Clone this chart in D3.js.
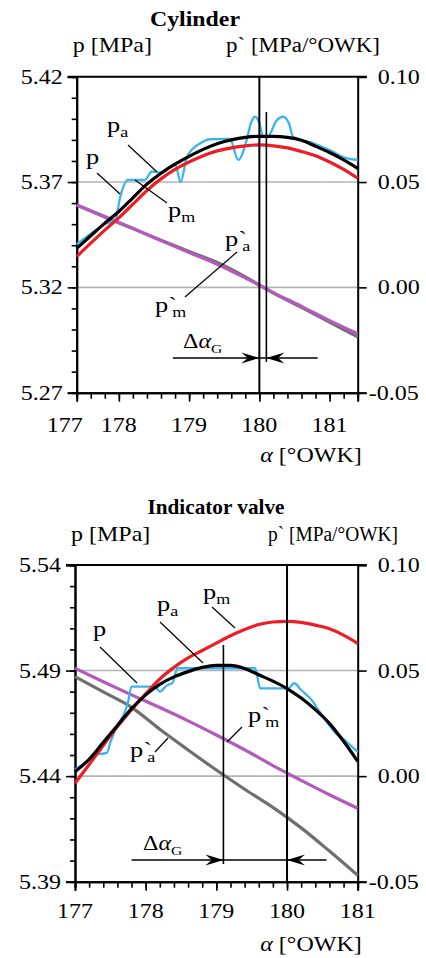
<!DOCTYPE html>
<html><head><meta charset="utf-8">
<script src="https://cdnjs.cloudflare.com/ajax/libs/d3/7.8.5/d3.min.js"></script>
<style>html,body{margin:0;padding:0;background:#fff;}svg{display:block;}</style>
</head><body>
<script>
// ---------------- DATA ----------------
// Cylinder panel
const cylTitle = "Cylinder";
const cylXTicks = [177, 178, 179, 180, 181];
const cylYLeftTicks = [5.27, 5.32, 5.37, 5.42];
const cylYRightTicks = [-0.05, 0.00, 0.05, 0.10];
const cylAlpha = [177.4,177.6,177.8,178.0,178.2,178.4,178.6,178.8,179.0,179.2,179.4,179.6,179.8,180.0,180.2,180.4,180.6,180.8,181.0,181.2,181.4];
const cylPa = [5.3385,5.3445,5.3505,5.3560,5.3625,5.3690,5.3742,5.3785,5.3822,5.3855,5.3882,5.3900,5.3912,5.3917,5.3917,5.3912,5.3898,5.3870,5.3840,5.3805,5.3765];
const cylPm = [5.3346,5.3410,5.3472,5.3530,5.3595,5.3660,5.3715,5.3760,5.3795,5.3825,5.3848,5.3862,5.3872,5.3876,5.3872,5.3862,5.3845,5.3825,5.3795,5.3760,5.3718];
const cylPAlpha = [177.4,177.6,177.8,177.95,178.02,178.13,178.37,178.47,178.6,178.8,178.88,178.97,179.16,179.30,179.58,179.70,179.82,179.88,179.94,180.0,180.05,180.12,180.24,180.34,180.42,180.48,180.77,181.0,181.24,181.4];
const cylP = [5.3405,5.3455,5.3500,5.3520,5.3630,5.3710,5.3710,5.3750,5.3745,5.3785,5.3700,5.3820,5.3884,5.3903,5.3905,5.3805,5.3900,5.3980,5.4010,5.3980,5.3920,5.3915,5.3990,5.4010,5.3980,5.3915,5.3884,5.3852,5.3813,5.3805];
const cylDAlpha = [177.4,177.8,178.2,178.6,179.0,179.4,179.8,180.2,180.6,181.0,181.4];
const cylDpa = [0.0391,0.0334,0.0279,0.0224,0.0170,0.0118,0.0050,-0.0027,-0.0095,-0.0165,-0.0235];
const cylDpm = [0.0391,0.0336,0.0280,0.0222,0.0165,0.0110,0.0045,-0.0025,-0.0090,-0.0158,-0.0220];
const cylMarks = [180.0, 180.1];          // alpha_G lines
const cylArrow = [178.77, 180.83, 5.2865]; // arrow start, end, level

// Indicator valve panel
const indTitle = "Indicator valve";
const indXTicks = [177, 178, 179, 180, 181];
const indYLeftTicks = [5.39, 5.44, 5.49, 5.54];
const indYRightTicks = [-0.05, 0.00, 0.05, 0.10];
const indAlpha = [177.0,177.2,177.4,177.6,177.8,178.0,178.2,178.4,178.6,178.8,179.0,179.2,179.4,179.6,179.8,180.0,180.2,180.4,180.6,180.8,181.0];
const indPa = [5.4421,5.4480,5.4560,5.4640,5.4720,5.4785,5.4835,5.4870,5.4895,5.4915,5.4925,5.4925,5.4910,5.4880,5.4850,5.4815,5.4770,5.4715,5.4650,5.4565,5.4470];
const indPm = [5.4366,5.4455,5.4545,5.4635,5.4715,5.4790,5.4860,5.4915,5.4960,5.4995,5.5030,5.5065,5.5095,5.5118,5.5130,5.5133,5.5128,5.5115,5.5098,5.5068,5.5029];
const indPAlpha = [177.0,177.2,177.26,177.45,177.5,177.6,177.7,177.75,177.8,178.13,178.2,178.3,178.38,178.45,179.55,179.62,180.02,180.1,180.2,180.35,180.45,180.6,180.7,180.8,180.9,181.0];
const indP = [5.4430,5.4480,5.4500,5.4510,5.4560,5.4640,5.4700,5.4750,5.4824,5.4824,5.4800,5.4830,5.4842,5.4911,5.4911,5.4816,5.4816,5.4840,5.4808,5.4760,5.4710,5.4640,5.4600,5.4575,5.4545,5.4516];
const indDAlpha = [177.0,177.4,177.8,178.2,178.6,179.0,179.4,179.8,180.2,180.6,181.0];
const indDpa = [0.0471,0.0399,0.0326,0.0222,0.0124,0.0029,-0.0062,-0.0148,-0.0245,-0.0355,-0.0470];
const indDpm = [0.0511,0.0447,0.0385,0.0325,0.0262,0.0195,0.0125,0.0050,-0.0020,-0.0088,-0.0152];
const indMarks = [180.0, 179.1];
const indArrow = [177.8, 180.56, 5.4003];

// ---------------- DRAW ----------------
const W = 426, H = 958;
const FONT = "'Liberation Serif','Times New Roman',Times,serif";
const C = {cyan:"#3ab4ee", black:"#000", red:"#ee1d25", purple:"#b35bbd", gray:"#6f6f6f", grid:"#b4b4b4"};
const svg = d3.select("body").append("svg").attr("width", W).attr("height", H);

function stext(g, x, y, anchor, size, weight) {
  return g.append("text")
    .attr("transform", `translate(${x},${y}) scale(1.2,1)`)
    .attr("text-anchor", anchor)
    .attr("font-family", FONT)
    .attr("font-size", size)
    .attr("font-weight", weight || "normal")
    .attr("fill", "#000");
}
function sym(g, x, y, prime, sub) {
  const t = stext(g, x, y, "start", 22);
  t.append("tspan").text("p");
  if (prime) t.append("tspan").text("`");
  if (sub) t.append("tspan").attr("font-size", 15).attr("dy", 5).attr("dx", prime ? -4 : 0).text(sub);
}
function arrowHead(g, tx, ty, dir) {
  const L = 18, h = 5.5;
  const p = d3.path();
  p.moveTo(tx, ty);
  p.lineTo(tx - dir * L, ty - h);
  p.lineTo(tx - dir * L * 0.65, ty);
  p.lineTo(tx - dir * L, ty + h);
  p.closePath();
  g.append("path").attr("d", p.toString()).attr("fill", "#000");
}

function panel(cfg) {
  const g = svg.append("g");
  const x = d3.scaleLinear().domain(cfg.xDomain).range([cfg.x0, cfg.x1]);
  const yL = d3.scaleLinear().domain([cfg.yLeft[0], cfg.yLeft[cfg.yLeft.length-1]]).range([cfg.yb, cfg.yt]);
  const yR = d3.scaleLinear().domain([cfg.yRight[0], cfg.yRight[cfg.yRight.length-1]]).range([cfg.yb, cfg.yt]);

  // titles / headers (widths fitted to the reference)
  g.append("text").attr("x", cfg.titleX).attr("y", cfg.titleY).attr("text-anchor", "middle")
    .attr("font-family", FONT).attr("font-size", 21).attr("font-weight", "bold")
    .attr("textLength", cfg.titleW).attr("lengthAdjust", "spacingAndGlyphs").text(cfg.title);
  stext(g, cfg.x0 - 4, cfg.headY, "start", 20).text("p [MPa]");
  g.append("text").attr("x", cfg.head2X).attr("y", cfg.headY)
    .attr("font-family", FONT).attr("font-size", 20)
    .attr("textLength", cfg.head2W).attr("lengthAdjust", "spacingAndGlyphs").text("p` [MPa/°OWK]");

  // gridlines
  cfg.yLeft.slice(1, -1).forEach(v => {
    g.append("line").attr("x1", cfg.x0).attr("x2", cfg.x1).attr("y1", yL(v)).attr("y2", yL(v))
      .attr("stroke", C.grid).attr("stroke-width", 1.6);
  });

  // ticks
  const gl = g.append("g").attr("transform", `translate(${cfg.x0},0)`)
    .call(d3.axisLeft(yL).tickValues(d3.range(0, 16).map(i => cfg.yLeft[0] + i * 0.01)).tickSize(5).tickFormat(""));
  const gl2 = g.append("g").attr("transform", `translate(${cfg.x0},0)`)
    .call(d3.axisLeft(yL).tickValues(cfg.yLeft).tickSize(9).tickFormat(""));
  const gr = g.append("g").attr("transform", `translate(${cfg.x1},0)`)
    .call(d3.axisRight(yR).tickValues(cfg.yRight).tickSize(9).tickFormat(""));
  const minorX = d3.range(0, 21).map(i => cfg.xDomain[0] + i * 0.2);
  const gb = g.append("g").attr("transform", `translate(0,${cfg.yb})`)
    .call(d3.axisBottom(x).tickValues(minorX).tickSize(6).tickFormat(""));
  const gb2 = g.append("g").attr("transform", `translate(0,${cfg.yb})`)
    .call(d3.axisBottom(x).tickValues(cfg.xTicks.filter(v => v >= cfg.xDomain[0])).tickSize(9).tickFormat(""));
  [gl, gl2, gr, gb, gb2].forEach(a => {
    a.selectAll("path.domain").attr("stroke", "#000").attr("stroke-width", 2);
    a.selectAll(".tick line").attr("stroke", "#000").attr("stroke-width", 1.6);
  });
  g.append("line").attr("x1", cfg.x0 - 9).attr("x2", cfg.x1 + 9).attr("y1", cfg.yt).attr("y2", cfg.yt)
    .attr("stroke", "#000").attr("stroke-width", 2);

  // tick labels
  cfg.yLeft.forEach(v => stext(g, cfg.x0 - 14, yL(v) + 7, "end", 20).text(v.toFixed(2)));
  cfg.yRight.forEach(v => stext(g, cfg.x1 + (v < 0 ? 11 : 20), yR(v) + 7, "start", 20).text(v.toFixed(2)));
  cfg.xTicks.forEach(v => {
    const px = Math.max(x(v), cfg.x0 - 12);
    stext(g, px, cfg.yb + cfg.xLabDy, "middle", 20).text(String(v));
  });
  const al = stext(g, cfg.x1 + 4, cfg.yb + cfg.xTitleDy, "end", 20);
  al.append("tspan").attr("font-style", "italic").text("α");
  al.append("tspan").text(" [°OWK]");

  // curves
  const lineL = (xs, ys) => d3.line().x((d, i) => x(xs[i])).y((d, i) => yL(ys[i])).curve(d3.curveMonotoneX)(ys);
  const lineR = (xs, ys) => d3.line().x((d, i) => x(xs[i])).y((d, i) => yR(ys[i])).curve(d3.curveMonotoneX)(ys);
  const plot = g.append("g");
  plot.append("path").attr("d", lineR(cfg.dAlpha, cfg.dpa)).attr("fill", "none").attr("stroke", C.gray).attr("stroke-width", 3.2);
  plot.append("path").attr("d", lineR(cfg.dAlpha, cfg.dpm)).attr("fill", "none").attr("stroke", C.purple).attr("stroke-width", 3.2);
  plot.append("path").attr("d", lineL(cfg.pAlpha, cfg.p)).attr("fill", "none").attr("stroke", C.cyan).attr("stroke-width", 2.3);
  plot.append("path").attr("d", lineL(cfg.alpha, cfg.pm)).attr("fill", "none").attr("stroke", C.red).attr("stroke-width", 3.2);
  plot.append("path").attr("d", lineL(cfg.alpha, cfg.pa)).attr("fill", "none").attr("stroke", C.black).attr("stroke-width", 3.2);

  // vertical marks
  g.append("line").attr("x1", x(cfg.marks[0])).attr("x2", x(cfg.marks[0])).attr("y1", cfg.yt).attr("y2", cfg.yb)
    .attr("stroke", "#000").attr("stroke-width", 2);
  g.append("line").attr("x1", x(cfg.marks[1])).attr("x2", x(cfg.marks[1])).attr("y1", cfg.mark2Top).attr("y2", yL(cfg.arrow[2]) + 4)
    .attr("stroke", "#000").attr("stroke-width", 1.6);

  // delta arrow
  const ay = yL(cfg.arrow[2]);
  g.append("line").attr("x1", x(cfg.arrow[0])).attr("x2", x(cfg.arrow[1])).attr("y1", ay).attr("y2", ay)
    .attr("stroke", "#000").attr("stroke-width", 1.6);
  const lo = Math.min(cfg.marks[0], cfg.marks[1]), hi = Math.max(cfg.marks[0], cfg.marks[1]);
  arrowHead(g, x(lo), ay, 1);
  arrowHead(g, x(hi), ay, -1);
  const dl = stext(g, cfg.dLabX, cfg.dLabY, "start", 20);
  dl.append("tspan").text("Δ");
  dl.append("tspan").attr("font-style", "italic").text("α");
  dl.append("tspan").attr("font-size", 13).attr("dy", 5).text("G");

  // labels + leaders
  cfg.leaders.forEach(l => g.append("line").attr("x1", l[0]).attr("y1", l[1]).attr("x2", l[2]).attr("y2", l[3])
    .attr("stroke", "#000").attr("stroke-width", 1.2));
  cfg.labels.forEach(l => sym(g, l[0], l[1], l[2], l[3]));
}

panel({
  title: cylTitle, titleX: 195, titleY: 26, titleW: 90, headY: 52, head2X: 226, head2W: 154,
  xDomain: [177.4, 181.4], x0: 76.7, x1: 357.7, yt: 76.7, yb: 392.7,
  yLeft: cylYLeftTicks, yRight: cylYRightTicks, xTicks: cylXTicks, xLabDy: 39, xTitleDy: 69,
  alpha: cylAlpha, pa: cylPa, pm: cylPm, pAlpha: cylPAlpha, p: cylP,
  dAlpha: cylDAlpha, dpa: cylDpa, dpm: cylDpm,
  marks: cylMarks, mark2Top: 112, arrow: cylArrow, dLabX: 183, dLabY: 348,
  leaders: [[128,145,157,172],[97,173,120,194],[135,180,167,203],[185,297,237,252]],
  labels: [[107,132,false,"a"],[86,164,false,null],[168,217,false,"m"],[225,246,true,"a"],[155,312,true,"m"]]
});

panel({
  title: indTitle, titleX: 216, titleY: 514, titleW: 137, headY: 541, head2X: 268, head2W: 130,
  xDomain: [177, 181], x0: 75, x1: 357.7, yt: 565, yb: 881.7,
  yLeft: indYLeftTicks, yRight: indYRightTicks, xTicks: indXTicks, xLabDy: 36, xTitleDy: 69,
  alpha: indAlpha, pa: indPa, pm: indPm, pAlpha: indPAlpha, p: indP,
  dAlpha: indDAlpha, dpa: indDpa, dpm: indDpm,
  marks: indMarks, mark2Top: 645, arrow: indArrow, dLabX: 143, dLabY: 850,
  leaders: [[212,607,235,628],[160,622,203,663],[100,647,137,683],[242,727,227,742],[155,752,168,738]],
  labels: [[203,599,false,"m"],[157,611,false,"a"],[93,636,false,null],[248,722,true,"m"],[130,757,true,"a"]]
});
</script>
</body></html>
